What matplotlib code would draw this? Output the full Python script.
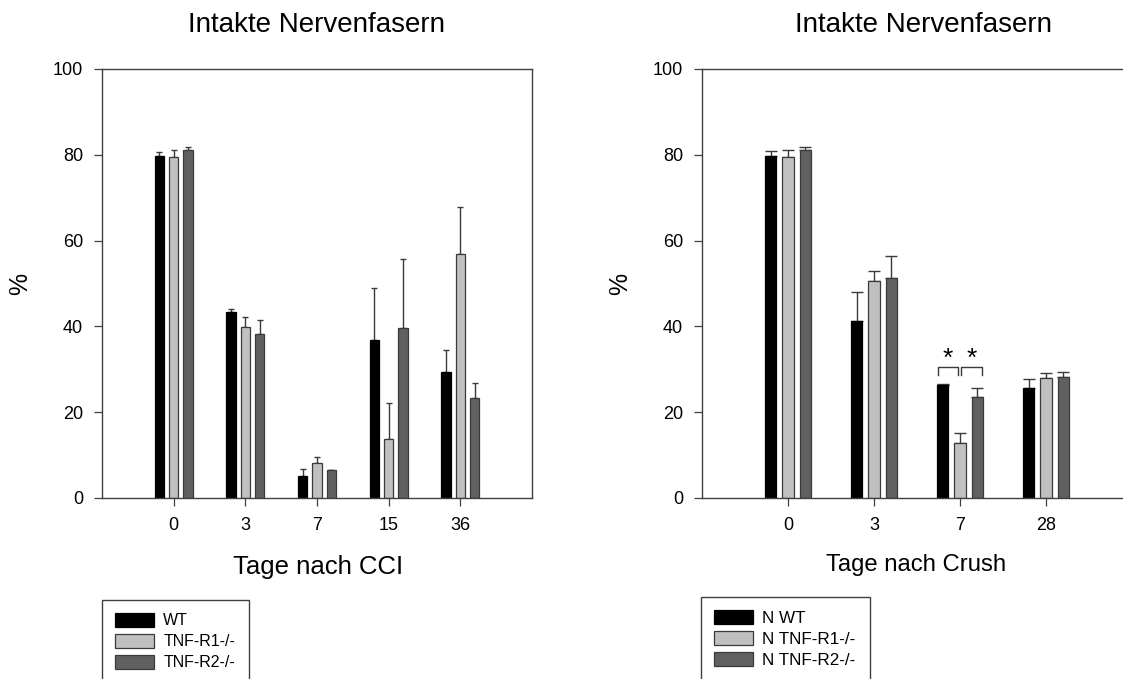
import numpy as np
import matplotlib
matplotlib.use("Agg")
from matplotlib import pyplot as plt
from matplotlib.patches import Rectangle

plt.rcParams['font.family'] = ['Liberation Sans', 'DejaVu Sans']

# left panel: Tage nach CCI
cci_days = ["0", "3", "7", "15", "36"]
cci_wt = [79.7, 43.3, 5.1, 36.8, 29.4]
cci_wt_err = [0.9, 0.7, 1.6, 12.2, 5.2]
cci_r1 = [79.4, 39.9, 8.1, 13.8, 56.8]
cci_r1_err = [1.6, 2.2, 1.5, 8.3, 11.1]
cci_r2 = [81.0, 38.2, 6.5, 39.6, 23.3]
cci_r2_err = [0.7, 3.2, 0.0, 16.2, 3.4]

# right panel: Tage nach Crush
crush_days = ["0", "3", "7", "28"]
crush_wt = [79.7, 41.2, 26.3, 25.7]
crush_wt_err = [1.1, 6.7, 0.3, 2.0]
crush_r1 = [79.4, 50.6, 12.7, 27.9]
crush_r1_err = [1.6, 2.2, 2.4, 1.2]
crush_r2 = [81.1, 51.2, 23.5, 28.3]
crush_r2_err = [0.6, 5.3, 2.2, 1.0]

cci_labels = ["WT", "TNF-R1-/-", "TNF-R2-/-"]
crush_labels = ["N WT", "N TNF-R1-/-", "N TNF-R2-/-"]

colors = ["#000000", "#c0c0c0", "#606060"]
edges = ["#000000", "#3a3a3a", "#3a3a3a"]
spine_col = "#404040"

fig = plt.figure(figsize=(11.23, 6.79), dpi=100)
ax1 = fig.add_axes([0.0908, 0.2666, 0.3829, 0.6318])
ax2 = fig.add_axes([0.6251, 0.2666, 0.3829, 0.6318])


def draw_panel(ax, days, series, errs, labels, capsize):
    x = np.arange(len(days))
    offs = [-0.2, 0.0, 0.2]
    handles = []
    for vals, err, off, c, ec, lab in zip(series, errs, offs, colors, edges, labels):
        b = ax.bar(x + off, vals, width=0.13, color=c, edgecolor=ec,
                   linewidth=0.9, label=lab, zorder=2)
        ax.errorbar(x + off, vals, yerr=[np.zeros(len(vals)), err], fmt='none',
                    ecolor="#3a3a3a", elinewidth=1.0, capsize=capsize,
                    capthick=1.0, zorder=1)
        handles.append(b)
    ax.set_xlim(-1, len(days))
    ax.set_ylim(0, 100)
    ax.set_xticks(x)
    ax.set_xticklabels(days)
    ax.set_yticks([0, 20, 40, 60, 80, 100])
    ax.tick_params(direction='out', length=5.5, width=0.9, color=spine_col,
                   labelsize=13, pad=8)
    for s in ax.spines.values():
        s.set_color(spine_col)
        s.set_linewidth(1.0)
    return handles


h1 = draw_panel(ax1, cci_days, [cci_wt, cci_r1, cci_r2],
                [cci_wt_err, cci_r1_err, cci_r2_err], cci_labels, 2.5)
h2 = draw_panel(ax2, crush_days, [crush_wt, crush_r1, crush_r2],
                [crush_wt_err, crush_r1_err, crush_r2_err], crush_labels, 4.3)
ax2.set_xlim(-1, 4)

ax1.set_title("Intakte Nervenfasern", fontsize=20, x=0.5, y=1.087, va='baseline', pad=0)
ax2.set_title("Intakte Nervenfasern", fontsize=20, x=0.514, y=1.087, va='baseline', pad=0)

ax1.set_xlabel("Tage nach CCI", fontsize=18.5, va='center')
ax1.xaxis.set_label_coords(0.502, -0.16)
ax2.set_xlabel("Tage nach Crush", fontsize=17.2, va='center')
ax2.xaxis.set_label_coords(0.497, -0.156)

for ax in (ax1, ax2):
    ax.set_ylabel("%", fontsize=18, va='center')
    ax.yaxis.set_label_coords(-0.19, 0.5)

# significance brackets at day 7 (crush)
g = 2
top = 30.5
leg = 28.6
for x0, x1 in [(-0.26, -0.02), (0.015, 0.26)]:
    ax2.plot([g + x0, g + x0, g + x1, g + x1], [leg, top, top, leg],
             color="#3a3a3a", lw=1.0, zorder=3)
    ax2.text(g + (x0 + x1) / 2, top + 1.9, "*", ha='center', va='center',
             fontsize=19)

# legends: frame drawn separately so it runs off the bottom like the original
leg1 = fig.legend(handles=h1, labels=cci_labels, loc='upper left',
                  bbox_to_anchor=(0.0906, 0.0, 0.1314, 0.1163), mode='expand',
                  fontsize=11.5, handlelength=2.5, handleheight=0.95,
                  handletextpad=0.55, labelspacing=0.36, borderpad=0.8,
                  borderaxespad=0, frameon=False)
leg2 = fig.legend(handles=h2, labels=crush_labels, loc='upper left',
                  bbox_to_anchor=(0.6242, 0.0, 0.1505, 0.1212), mode='expand',
                  fontsize=12.3, handlelength=2.3, handleheight=0.9,
                  handletextpad=0.55, labelspacing=0.3, borderpad=0.75,
                  borderaxespad=0, frameon=False)
for x0, w, h in [(0.0906, 0.1314, 0.1163), (0.6242, 0.1505, 0.1212)]:
    fig.patches.append(Rectangle((x0, -0.05), w, h + 0.05, transform=fig.transFigure,
                                 fill=False, edgecolor=spine_col, linewidth=1.0))

fig.savefig("out.png", dpi=100)
